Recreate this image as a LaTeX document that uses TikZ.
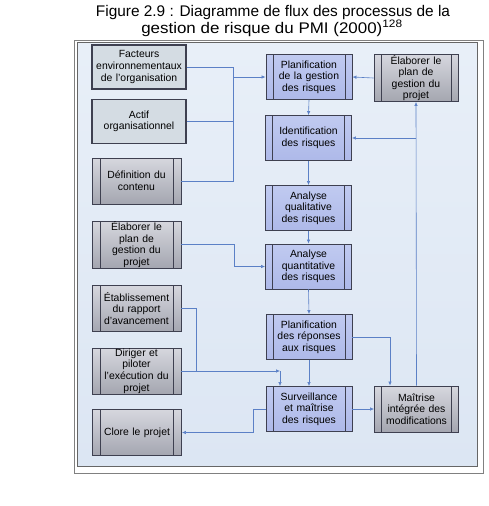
\documentclass[tikz,border=0pt]{standalone}
\usepackage{fontspec}
\usepackage{graphicx}
\setmainfont{Liberation Sans}
\usetikzlibrary{arrows.meta}
\definecolor{conn}{HTML}{5B80C6}
\definecolor{bluefill}{HTML}{AEB9E9}
\definecolor{bluefilltop}{HTML}{C0CAF0}
\definecolor{grayfilltop}{HTML}{D6D7DE}
\definecolor{grayfillbot}{HTML}{A4A6B0}
\definecolor{plainfill}{HTML}{D4DCE3}
\definecolor{framefill}{HTML}{DCE6F3}
\definecolor{framefilltop}{HTML}{E8EFF8}
\definecolor{edge}{HTML}{3E4050}
\tikzset{
  boxtext/.style={font=\fontsize{10.4}{11.6}\selectfont, align=center, inner sep=0.5pt},
  barred/.style={path picture={
      \draw[edge, line width=0.8pt] ([xshift=#1]path picture bounding box.north west) -- ([xshift=#1]path picture bounding box.south west);
      \draw[edge, line width=0.8pt] ([xshift=-#1]path picture bounding box.north east) -- ([xshift=-#1]path picture bounding box.south east);}},
  plainbox/.style={boxtext, draw=edge, line width=1.3pt, fill=plainfill, minimum width=94pt, minimum height=44pt, text width=92pt},
  leftbox/.style={boxtext, draw=edge, line width=0.9pt, top color=grayfilltop, bottom color=grayfillbot, minimum width=89pt, minimum height=46pt, text width=72pt, barred=8pt},
  procbox/.style={boxtext, draw=edge, line width=0.9pt, top color=bluefilltop, bottom color=bluefill, minimum width=86pt, minimum height=45pt, text width=72pt, barred=7pt},
  graybox/.style={boxtext, draw=edge, line width=0.9pt, top color=grayfilltop, bottom color=grayfillbot, minimum width=84pt, minimum height=46pt, text width=70pt, barred=7pt},
  titletext/.style={font=\fontsize{15.4}{15.4}\selectfont, anchor=base, inner sep=0pt},
  line/.style={draw=conn, line width=0.6pt},
  arr/.style={line, -{Latex[length=4pt,width=3.5pt]}}
}
\begin{document}
\begin{tikzpicture}[x=1pt,y=-1pt]
\useasboundingbox (0,0) rectangle (488,506);
% title
\node[titletext] (title1) at (273,16.3) {Figure 2.9 : Diagramme de flux des processus de la};
\node[titletext] (title2) at (272,33) {\scalebox{1.1}[1]{gestion de risque du PMI (2000)\textsuperscript{128}}};
% frame
\draw[gray, line width=0.6pt, fill=white] (74,40) rectangle (483,473);
\draw[gray!80!black, line width=0.8pt, top color=framefilltop, bottom color=framefill] (77,42) rectangle (477,466);
% left column
\node[plainbox] (fac) at (139,67) {Facteurs\\environnementaux\\de l'organisation};
\node[plainbox] (act) at (139,121.5) {Actif\\organisationnel};
\node[leftbox] (def) at (136.5,181) {Définition du\\contenu};
\node[leftbox] (elab1) at (136.5,244.5) {Élaborer le\\plan de\\gestion du\\projet};
\node[leftbox] (etab) at (136.5,308.5) {Établissement\\du rapport\\d'avancement};
\node[leftbox] (dir) at (136.5,371) {Diriger et\\piloter\\l'exécution du\\projet};
\node[leftbox] (clore) at (137,432.5) {Clore le projet};
% center column
\node[procbox] (plan) at (309,77) {Planification\\de la gestion\\des risques};
\node[procbox] (ident) at (308.5,138) {Identification\\des risques};
\node[procbox] (qual) at (308.5,208) {Analyse\\qualitative\\des risques};
\node[procbox] (quant) at (308.5,266.5) {Analyse\\quantitative\\des risques};
\node[procbox] (rep) at (309,337) {Planification\\des réponses\\aux risques};
\node[procbox] (surv) at (309,409) {Surveillance\\et maîtrise\\des risques};
% right column
\node[graybox] (elab2) at (416,78) {Élaborer le\\plan de\\gestion du\\projet};
\node[graybox] (maitr) at (416.5,409) {Maîtrise\\intégrée des\\modifications};
% connectors
\coordinate (bus) at (233,77);
\draw[line] (fac.east) -| (bus);
\draw[line] (act.east) -| (bus);
\draw[line] (def.east) -| (bus);
\draw[arr] (bus) -- (plan.west);
\coordinate (b2) at (234,266.5);
\draw[arr] (elab1.east) -| (b2) -- (quant.west);
\coordinate (b3) at (196,371);
\draw[line] (etab.east) -| (b3);
\coordinate (b4) at (280,371);
\draw[arr] (dir.east) -- (b4);
\draw[arr] (b4) -- (b4 |- surv.north);
\draw[arr] (plan.south) -- (ident.north);
\draw[arr] (ident.south) -- (qual.north);
\draw[arr] (qual.south) -- (quant.north);
\draw[arr] (quant.south) -- (rep.north);
\draw[arr] (rep.south) -- (surv.north);
\coordinate (b5) at (390,337);
\draw[arr] (rep.east) -- (b5) -- (b5 |- maitr.north);
\draw[arr] (surv.east) -- (maitr.west);
\coordinate (b6) at (253,432.5);
\draw[arr] (surv.west) -| (b6) -- (clore.east);
\draw[arr] (maitr.north) -- (elab2.south);
\draw[arr] (elab2.south |- ident.east) -- (ident.east);
\draw[arr] (elab2.west) -- (plan.east);
\end{tikzpicture}
\end{document}
